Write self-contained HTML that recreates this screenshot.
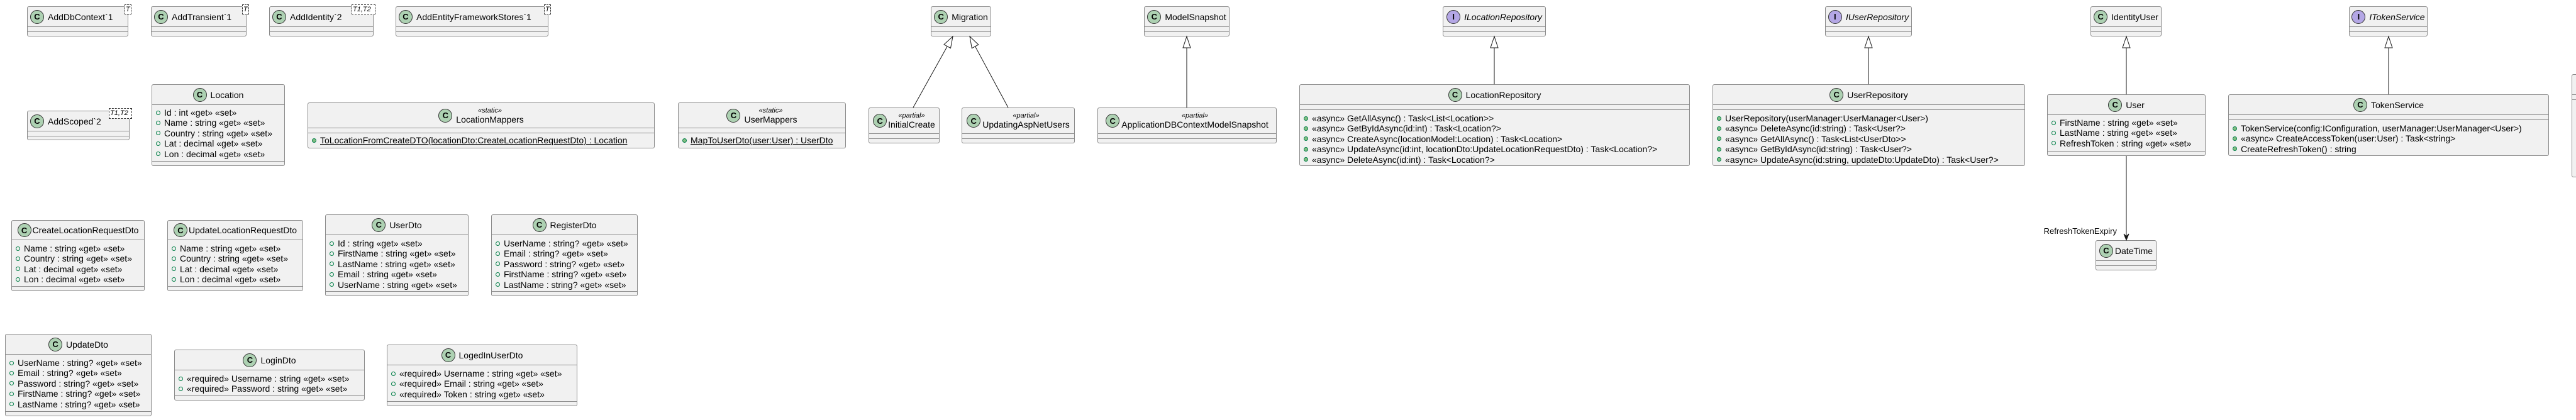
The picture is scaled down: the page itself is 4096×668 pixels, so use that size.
<!DOCTYPE html>
<html><head><meta charset="utf-8"><style>
html,body{margin:0;padding:0;background:#fff}
body{width:4096px;height:668px;position:relative;overflow:hidden;font-family:"Liberation Sans",sans-serif;font-size:14px;color:#000}
.b{position:absolute;background:#f1f1f1;border:1px solid #8a8a8a;border-radius:3px;box-sizing:border-box;overflow:hidden;white-space:nowrap}
.h{display:flex;align-items:center;justify-content:center;border-bottom:1px solid #8a8a8a;box-sizing:border-box}
.s{border-bottom:1px solid #8a8a8a;box-sizing:border-box;padding-top:4px}
.s:last-child{border-bottom:none}
.c{width:22px;height:22px;border-radius:50%;background:#ADD1B2;border:1px solid #333;box-sizing:border-box;font-weight:bold;font-size:13px;display:flex;align-items:center;justify-content:center;margin-right:6px;flex:none}
.i{background:#B4A7E5}
.n{display:flex;flex-direction:column;align-items:center;line-height:15px}
.st{font-style:italic;font-size:11px;line-height:13px}
.r{height:16.4px;line-height:16.4px;display:flex;align-items:center;padding-left:6px}
.f,.m{width:7px;height:7px;border-radius:50%;box-sizing:border-box;border:1px solid #038048;margin-right:6px;flex:none}
.m{background:#84BE84}
.u{text-decoration:underline}
.it{font-style:italic}
.t{position:absolute;background:#fff;border:1px dashed #333;font-style:italic;font-size:11px;line-height:14px;padding:0 1px;box-sizing:border-box}
svg{position:absolute;left:0;top:0}
</style></head><body>

<!-- Row 1 -->
<div class="b" style="left:43px;top:10px;width:161px;height:48px"><div class="h" style="height:32px;justify-content:flex-start;padding-left:4px"><div class="c">C</div>AddDbContext`1</div><div class="s" style="height:8px"></div><div class="s"></div></div>
<div class="t" style="left:198px;top:7px;width:11px;height:16px">T</div>
<div class="b" style="left:240px;top:10px;width:152px;height:48px"><div class="h" style="height:32px;justify-content:flex-start;padding-left:4px"><div class="c">C</div>AddTransient`1</div><div class="s" style="height:8px"></div><div class="s"></div></div>
<div class="t" style="left:385px;top:7px;width:11px;height:16px">T</div>
<div class="b" style="left:428px;top:10px;width:166px;height:48px"><div class="h" style="height:32px;justify-content:flex-start;padding-left:4px"><div class="c">C</div>AddIdentity`2</div><div class="s" style="height:8px"></div><div class="s"></div></div>
<div class="t" style="left:559px;top:7px;width:38px;height:16px">T1,T2</div>
<div class="b" style="left:629px;top:10px;width:243px;height:48px"><div class="h" style="height:32px;justify-content:flex-start;padding-left:4px"><div class="c">C</div>AddEntityFrameworkStores`1</div><div class="s" style="height:8px"></div><div class="s"></div></div>
<div class="t" style="left:865px;top:7px;width:11px;height:16px">T</div>

<div class="b" style="left:1480px;top:10px;width:96px;height:48px"><div class="h" style="height:32px"><div class="c">C</div>Migration</div><div class="s" style="height:8px"></div><div class="s"></div></div>
<div class="b" style="left:1819px;top:10px;width:136px;height:48px"><div class="h" style="height:32px"><div class="c">C</div>ModelSnapshot</div><div class="s" style="height:8px"></div><div class="s"></div></div>
<div class="b" style="left:2294px;top:10px;width:164px;height:48px"><div class="h" style="height:32px"><div class="c i">I</div><span class="it">ILocationRepository</span></div><div class="s" style="height:8px"></div><div class="s"></div></div>
<div class="b" style="left:2902px;top:10px;width:138px;height:48px"><div class="h" style="height:32px"><div class="c i">I</div><span class="it">IUserRepository</span></div><div class="s" style="height:8px"></div><div class="s"></div></div>
<div class="b" style="left:3324px;top:10px;width:113px;height:48px"><div class="h" style="height:32px"><div class="c">C</div>IdentityUser</div><div class="s" style="height:8px"></div><div class="s"></div></div>
<div class="b" style="left:3735px;top:10px;width:125px;height:48px"><div class="h" style="height:32px"><div class="c i">I</div><span class="it">ITokenService</span></div><div class="s" style="height:8px"></div><div class="s"></div></div>

<!-- Row 2 -->
<div class="b" style="left:43px;top:176px;width:163px;height:47px"><div class="h" style="height:32px;justify-content:flex-start;padding-left:4px"><div class="c">C</div>AddScoped`2</div><div class="s" style="height:8px"></div><div class="s"></div></div>
<div class="t" style="left:173px;top:172px;width:37px;height:17px">T1,T2</div>

<div class="b" style="left:241px;top:134px;width:212px;height:130px"><div class="h" style="height:32px"><div class="c">C</div>Location</div>
<div class="s" style="height:90px"><div class="r"><i class="f"></i>Id : int «get» «set»</div><div class="r"><i class="f"></i>Name : string «get» «set»</div><div class="r"><i class="f"></i>Country : string «get» «set»</div><div class="r"><i class="f"></i>Lat : decimal «get» «set»</div><div class="r"><i class="f"></i>Lon : decimal «get» «set»</div></div><div class="s"></div></div>

<div class="b" style="left:489px;top:163px;width:552px;height:73px"><div class="h" style="height:40px"><div class="c">C</div><div class="n"><span class="st">«static»</span><span>LocationMappers</span></div></div><div class="s" style="height:8px"></div>
<div class="s" style="padding-top:3px"><div class="r"><i class="m"></i><span class="u">ToLocationFromCreateDTO(locationDto:CreateLocationRequestDto) : Location</span></div></div></div>

<div class="b" style="left:1078px;top:163px;width:267px;height:73px"><div class="h" style="height:40px"><div class="c">C</div><div class="n"><span class="st">«static»</span><span>UserMappers</span></div></div><div class="s" style="height:8px"></div>
<div class="s" style="padding-top:3px"><div class="r"><i class="m"></i><span class="u">MapToUserDto(user:User) : UserDto</span></div></div></div>

<div class="b" style="left:1381px;top:171px;width:113px;height:57px"><div class="h" style="height:41px"><div class="c" style="margin-right:2px">C</div><div class="n"><span class="st">«partial»</span><span>InitialCreate</span></div></div><div class="s" style="height:8px"></div><div class="s"></div></div>
<div class="b" style="left:1529px;top:171px;width:180px;height:57px"><div class="h" style="height:41px"><div class="c" style="margin-right:3px">C</div><div class="n"><span class="st">«partial»</span><span>UpdatingAspNetUsers</span></div></div><div class="s" style="height:8px"></div><div class="s"></div></div>
<div class="b" style="left:1745px;top:171px;width:285px;height:57px"><div class="h" style="height:41px"><div class="c" style="margin-right:3px">C</div><div class="n"><span class="st">«partial»</span><span>ApplicationDBContextModelSnapshot</span></div></div><div class="s" style="height:8px"></div><div class="s"></div></div>

<div class="b" style="left:2066px;top:134px;width:621px;height:130px"><div class="h" style="height:32px"><div class="c">C</div>LocationRepository</div><div class="s" style="height:8px"></div>
<div class="s" style="padding-top:5px"><div class="r"><i class="m"></i>«async» GetAllAsync() : Task&lt;List&lt;Location&gt;&gt;</div><div class="r"><i class="m"></i>«async» GetByIdAsync(id:int) : Task&lt;Location?&gt;</div><div class="r"><i class="m"></i>«async» CreateAsync(locationModel:Location) : Task&lt;Location&gt;</div><div class="r"><i class="m"></i>«async» UpdateAsync(id:int, locationDto:UpdateLocationRequestDto) : Task&lt;Location?&gt;</div><div class="r"><i class="m"></i>«async» DeleteAsync(id:int) : Task&lt;Location?&gt;</div></div></div>

<div class="b" style="left:2723px;top:134px;width:497px;height:130px"><div class="h" style="height:32px"><div class="c">C</div>UserRepository</div><div class="s" style="height:8px"></div>
<div class="s" style="padding-top:5px"><div class="r"><i class="m"></i>UserRepository(userManager:UserManager&lt;User&gt;)</div><div class="r"><i class="m"></i>«async» DeleteAsync(id:string) : Task&lt;User?&gt;</div><div class="r"><i class="m"></i>«async» GetAllAsync() : Task&lt;List&lt;UserDto&gt;&gt;</div><div class="r"><i class="m"></i>«async» GetByIdAsync(id:string) : Task&lt;User?&gt;</div><div class="r"><i class="m"></i>«async» UpdateAsync(id:string, updateDto:UpdateDto) : Task&lt;User?&gt;</div></div></div>

<div class="b" style="left:3255px;top:150px;width:252px;height:98px"><div class="h" style="height:32px"><div class="c">C</div>User</div>
<div class="s" style="height:58px"><div class="r"><i class="f"></i>FirstName : string «get» «set»</div><div class="r"><i class="f"></i>LastName : string «get» «set»</div><div class="r"><i class="f"></i>RefreshToken : string «get» «set»</div></div><div class="s"></div></div>

<div class="b" style="left:3543px;top:150px;width:510px;height:98px"><div class="h" style="height:32px"><div class="c">C</div>TokenService</div><div class="s" style="height:8px"></div>
<div class="s" style="padding-top:5px"><div class="r"><i class="m"></i>TokenService(config:IConfiguration, userManager:UserManager&lt;User&gt;)</div><div class="r"><i class="m"></i>«async» CreateAccessToken(user:User) : Task&lt;string&gt;</div><div class="r"><i class="m"></i>CreateRefreshToken() : string</div></div></div>

<div class="b" style="left:4089px;top:118px;width:24px;height:164px"><div class="h" style="height:32px"></div><div class="s" style="height:8px"></div><div class="s"></div></div>

<div class="b" style="left:3332px;top:382px;width:97px;height:48px"><div class="h" style="height:32px"><div class="c" style="margin-right:3px">C</div>DateTime</div><div class="s" style="height:8px"></div><div class="s"></div></div>

<!-- DTO rows -->
<div class="b" style="left:18px;top:350px;width:212px;height:113px"><div class="h" style="height:31px"><div class="c" style="margin-right:2px">C</div>CreateLocationRequestDto</div>
<div class="s" style="height:74px;padding-top:5px"><div class="r"><i class="f"></i>Name : string «get» «set»</div><div class="r"><i class="f"></i>Country : string «get» «set»</div><div class="r"><i class="f"></i>Lat : decimal «get» «set»</div><div class="r"><i class="f"></i>Lon : decimal «get» «set»</div></div><div class="s"></div></div>

<div class="b" style="left:266px;top:350px;width:216px;height:113px"><div class="h" style="height:31px"><div class="c" style="margin-right:2px">C</div>UpdateLocationRequestDto</div>
<div class="s" style="height:74px;padding-top:5px"><div class="r"><i class="f"></i>Name : string «get» «set»</div><div class="r"><i class="f"></i>Country : string «get» «set»</div><div class="r"><i class="f"></i>Lat : decimal «get» «set»</div><div class="r"><i class="f"></i>Lon : decimal «get» «set»</div></div><div class="s"></div></div>

<div class="b" style="left:517px;top:341px;width:228px;height:130px"><div class="h" style="height:32px"><div class="c">C</div>UserDto</div>
<div class="s" style="height:90px;padding-top:5px"><div class="r"><i class="f"></i>Id : string «get» «set»</div><div class="r"><i class="f"></i>FirstName : string «get» «set»</div><div class="r"><i class="f"></i>LastName : string «get» «set»</div><div class="r"><i class="f"></i>Email : string «get» «set»</div><div class="r"><i class="f"></i>UserName : string «get» «set»</div></div><div class="s"></div></div>

<div class="b" style="left:781px;top:341px;width:233px;height:130px"><div class="h" style="height:32px"><div class="c">C</div>RegisterDto</div>
<div class="s" style="height:90px;padding-top:5px"><div class="r"><i class="f"></i>UserName : string? «get» «set»</div><div class="r"><i class="f"></i>Email : string? «get» «set»</div><div class="r"><i class="f"></i>Password : string? «get» «set»</div><div class="r"><i class="f"></i>FirstName : string? «get» «set»</div><div class="r"><i class="f"></i>LastName : string? «get» «set»</div></div><div class="s"></div></div>

<div class="b" style="left:8px;top:531px;width:233px;height:131px"><div class="h" style="height:32px"><div class="c">C</div>UpdateDto</div>
<div class="s" style="height:91px;padding-top:5px"><div class="r"><i class="f"></i>UserName : string? «get» «set»</div><div class="r"><i class="f"></i>Email : string? «get» «set»</div><div class="r"><i class="f"></i>Password : string? «get» «set»</div><div class="r"><i class="f"></i>FirstName : string? «get» «set»</div><div class="r"><i class="f"></i>LastName : string? «get» «set»</div></div><div class="s"></div></div>

<div class="b" style="left:277px;top:556px;width:303px;height:81px"><div class="h" style="height:32px"><div class="c">C</div>LoginDto</div>
<div class="s" style="height:41px;padding-top:5px"><div class="r"><i class="f"></i>«required» Username : string «get» «set»</div><div class="r"><i class="f"></i>«required» Password : string «get» «set»</div></div><div class="s"></div></div>

<div class="b" style="left:615px;top:548px;width:303px;height:98px"><div class="h" style="height:32px"><div class="c">C</div>LogedInUserDto</div>
<div class="s" style="height:58px;padding-top:5px"><div class="r"><i class="f"></i>«required» Username : string «get» «set»</div><div class="r"><i class="f"></i>«required» Email : string «get» «set»</div><div class="r"><i class="f"></i>«required» Token : string «get» «set»</div></div><div class="s"></div></div>

<svg width="4096" height="668" viewBox="0 0 4096 668">
<g stroke="#181818" stroke-width="1" fill="none">
<line x1="1452" y1="171" x2="1506.2" y2="73.7"/>
<polygon points="1515,58 1511.5,76.6 1501,70.8" fill="#fff"/>
<line x1="1603" y1="171" x2="1550.6" y2="73.8"/>
<polygon points="1542,58 1555.8,71 1545.3,76.7" fill="#fff"/>
<line x1="1887" y1="171" x2="1887" y2="76"/>
<polygon points="1887,58 1881,76 1893,76" fill="#fff"/>
<line x1="2376" y1="134" x2="2376" y2="76"/>
<polygon points="2376,58 2370,76 2382,76" fill="#fff"/>
<line x1="2971" y1="134" x2="2971" y2="76"/>
<polygon points="2971,58 2965,76 2977,76" fill="#fff"/>
<line x1="3381" y1="150" x2="3381" y2="76"/>
<polygon points="3381,58 3375,76 3387,76" fill="#fff"/>
<line x1="3798" y1="150" x2="3798" y2="76"/>
<polygon points="3798,58 3792,76 3804,76" fill="#fff"/>
<line x1="3381" y1="248" x2="3381" y2="380"/>
<polygon points="3381,382 3377,372 3381,376 3385,372" fill="#181818"/>
</g>
<text x="3366" y="372" text-anchor="end" font-family="Liberation Sans, sans-serif" font-size="13">RefreshTokenExpiry</text>
</svg>
</body></html>
